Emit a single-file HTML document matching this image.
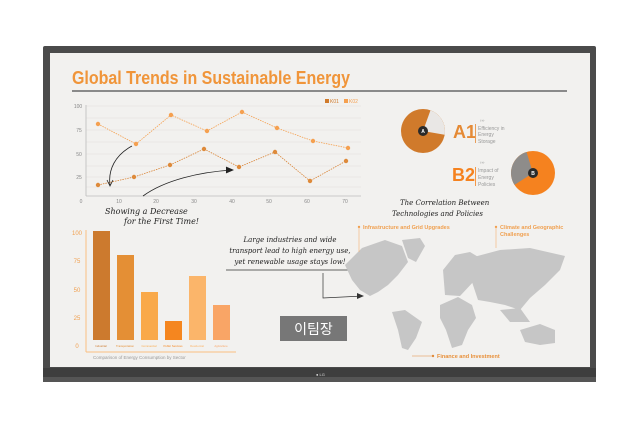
<!DOCTYPE html>
<html><head><meta charset="utf-8"><style>
html,body{margin:0;padding:0;background:#fff;width:644px;height:422px;overflow:hidden}
svg{display:block}
.h{font-family:"DejaVu Serif","Liberation Serif",serif;font-style:italic;fill:#222}
</style></head><body>
<svg width="644" height="422" viewBox="0 0 644 422" xmlns="http://www.w3.org/2000/svg" font-family="Liberation Sans, sans-serif">
<rect x="43" y="46" width="553" height="336" rx="2" fill="#4b4b4b"/>
<rect x="43" y="368" width="553" height="14" fill="#3e3e3e"/>
<rect x="43" y="377" width="553" height="5" fill="#555"/>
<rect x="50" y="53" width="540" height="314" fill="#f2f1ef"/>
<text x="316" y="376" font-size="4" fill="#ddd">● LG</text>
<!-- title -->
<text x="72" y="84" font-size="18.5" font-weight="bold" fill="#f0953a" textLength="278" lengthAdjust="spacingAndGlyphs">Global Trends in Sustainable Energy</text>
<rect x="72" y="90" width="495" height="2" fill="#8a8a8a"/>
<!-- line chart -->
<g stroke="#e2e0de" stroke-width="0.6">
<line x1="86" y1="106" x2="361" y2="106"/><line x1="86" y1="118" x2="361" y2="118"/><line x1="86" y1="130" x2="361" y2="130"/><line x1="86" y1="142" x2="361" y2="142"/><line x1="86" y1="154" x2="361" y2="154"/><line x1="86" y1="166" x2="361" y2="166"/><line x1="86" y1="177" x2="361" y2="177"/><line x1="86" y1="187" x2="361" y2="187"/>
</g>
<line x1="86" y1="105" x2="86" y2="196" stroke="#bbb" stroke-width="0.8"/>
<line x1="86" y1="196" x2="361" y2="196" stroke="#bbb" stroke-width="0.8"/>
<g font-size="5" fill="#888" text-anchor="middle">
<text x="78" y="108">100</text><text x="79" y="132">75</text><text x="79" y="156">50</text><text x="79" y="179">25</text>
<text x="81" y="203">0</text><text x="119" y="203">10</text><text x="156" y="203">20</text><text x="194" y="203">30</text><text x="232" y="203">40</text><text x="269" y="203">50</text><text x="307" y="203">60</text><text x="345" y="203">70</text>
</g>
<rect x="325" y="99" width="4" height="4" fill="#d07a2b"/><text x="330" y="103" font-size="5" fill="#d07a2b">K01</text>
<rect x="344" y="99" width="4" height="4" fill="#f5a050"/><text x="349" y="103" font-size="5" fill="#f5a050">K02</text>
<polyline points="98,124 136,144 171,115 207,131 242,112 277,128 313,141 348,148" fill="none" stroke="#f5a050" stroke-width="0.8" stroke-dasharray="1.5,1"/>
<polyline points="98,185 134,177 170,165 204,149 239,167 275,152 310,181 346,161" fill="none" stroke="#d98436" stroke-width="0.8" stroke-dasharray="1.5,1"/>
<g fill="#f5a050"><circle cx="98" cy="124" r="2.2"/><circle cx="136" cy="144" r="2.2"/><circle cx="171" cy="115" r="2.2"/><circle cx="207" cy="131" r="2.2"/><circle cx="242" cy="112" r="2.2"/><circle cx="277" cy="128" r="2.2"/><circle cx="313" cy="141" r="2.2"/><circle cx="348" cy="148" r="2.2"/></g>
<g fill="#de8a3a"><circle cx="98" cy="185" r="2.2"/><circle cx="134" cy="177" r="2.2"/><circle cx="170" cy="165" r="2.2"/><circle cx="204" cy="149" r="2.2"/><circle cx="239" cy="167" r="2.2"/><circle cx="275" cy="152" r="2.2"/><circle cx="310" cy="181" r="2.2"/><circle cx="346" cy="161" r="2.2"/></g>
<path d="M132,146 C115,155 108,170 110,185" fill="none" stroke="#222" stroke-width="0.8"/>
<path d="M107,180 L110,186 L113,180" fill="none" stroke="#222" stroke-width="0.8"/>
<path d="M143,196 C165,180 200,172 232,170" fill="none" stroke="#222" stroke-width="0.8"/>
<path d="M226,167 L233,170 L226,173" fill="#222" stroke="#222" stroke-width="0.8"/>
<text class="h" x="105" y="214" font-size="8">Showing a Decrease</text>
<text class="h" x="124" y="224" font-size="8">for the First Time!</text>
<!-- pies -->
<circle cx="423" cy="131" r="22" fill="#d07a2b"/>
<path d="M423,131 L430.5,110.3 A22,22 0 0 1 444.6,134.8 Z" fill="#e9e7e5"/>
<circle cx="423" cy="131" r="5" fill="#2a2a2a"/><text x="423" y="133" font-size="5" fill="#fff" text-anchor="middle" font-weight="bold">A</text>
<text x="453" y="138" font-size="18" font-weight="bold" fill="#e58a35">A1</text>
<rect x="475" y="124" width="0.8" height="19" fill="#e58a35"/>
<text x="480" y="122" font-size="4.5" fill="#888">›››</text>
<g font-size="5" fill="#999"><text x="478" y="130">Efficiency in</text><text x="478" y="136">Energy</text><text x="478" y="143">Storage</text></g>
<circle cx="533" cy="173" r="22" fill="#f5821f"/>
<path d="M533,173 L514.5,184.9 A22,22 0 0 1 526.5,152 Z" fill="#8e8c8a"/>
<circle cx="533" cy="173" r="5" fill="#2a2a2a"/><text x="533" y="175" font-size="5" fill="#fff" text-anchor="middle" font-weight="bold">B</text>
<text x="452" y="181" font-size="18" font-weight="bold" fill="#f5821f">B2</text>
<rect x="475" y="167" width="0.8" height="19" fill="#f5821f"/>
<text x="480" y="164" font-size="4.5" fill="#888">›››</text>
<g font-size="5" fill="#999"><text x="478" y="172">Impact of</text><text x="478" y="179">Energy</text><text x="478" y="186">Policies</text></g>
<text class="h" x="400" y="205" font-size="7">The Correlation Between</text>
<text class="h" x="392" y="216" font-size="7">Technologies and Policies</text>
<!-- bar chart -->
<line x1="86" y1="230" x2="86" y2="352" stroke="#fbbf80" stroke-width="1"/>
<line x1="86" y1="352" x2="236" y2="352" stroke="#fbbf80" stroke-width="1"/>
<g font-size="6" fill="#f0a050" text-anchor="middle"><text x="77" y="235">100</text><text x="77" y="263">75</text><text x="77" y="292">50</text><text x="77" y="320">25</text><text x="77" y="348">0</text></g>
<rect x="93" y="231" width="17" height="109" fill="#cc7a2e"/>
<rect x="117" y="255" width="17" height="85" fill="#e48f35"/>
<rect x="141" y="292" width="17" height="48" fill="#f9a94a"/>
<rect x="165" y="321" width="17" height="19" fill="#f5861f"/>
<rect x="189" y="276" width="17" height="64" fill="#fbb56a"/>
<rect x="213" y="305" width="17" height="35" fill="#f9a566"/>
<g font-size="2.8" text-anchor="middle"><text x="101" y="347" fill="#cc7a2e">Industrial</text><text x="125" y="347" fill="#e48f35">Transportation</text><text x="149" y="347" fill="#f9a94a">Commercial</text><text x="173" y="347" fill="#f5861f">Public Services</text><text x="197" y="347" fill="#fbb56a">Residential</text><text x="221" y="347" fill="#f9a566">Agriculture</text></g>
<text x="93" y="359" font-size="4.5" fill="#999">Comparison of Energy Consumption by Sector</text>
<!-- note -->
<text class="h" x="290" y="242" font-size="7" text-anchor="middle">Large industries and wide</text>
<text class="h" x="290" y="253" font-size="7" text-anchor="middle">transport lead to high energy use,</text>
<text class="h" x="290" y="264" font-size="7" text-anchor="middle">yet renewable usage stays low!</text>
<line x1="226" y1="270" x2="355" y2="270" stroke="#333" stroke-width="0.7"/>
<polyline points="323,273 323,298 363,296" fill="none" stroke="#333" stroke-width="0.7"/>
<path d="M357,293 L364,296 L357,299 Z" fill="#333"/>
<rect x="280" y="316" width="67" height="25" fill="#777"/>
<text x="313.5" y="334" font-size="14" fill="#fff" text-anchor="middle" font-family="Liberation Sans, 'Noto Sans CJK KR', sans-serif">이팀장</text>
<!-- map -->
<g fill="#c6c6c6">
<path d="M345,265 L362,248 L385,240 L402,246 L408,262 L398,275 L388,285 L378,292 L370,296 L360,290 L352,280 Z"/>
<path d="M402,240 L420,238 L425,246 L416,262 L408,258 Z"/>
<path d="M392,312 L405,310 L422,322 L416,338 L408,350 L402,348 L398,330 Z"/>
<path d="M440,305 L458,297 L472,305 L476,318 L468,330 L462,345 L452,348 L446,330 L440,318 Z"/>
<path d="M443,270 L455,255 L470,252 L480,258 L475,280 L460,296 L445,295 Z"/>
<path d="M470,258 L500,250 L530,248 L565,256 L560,270 L545,285 L530,298 L520,310 L505,305 L490,302 L478,300 L472,282 Z"/>
<path d="M520,330 L540,324 L555,330 L555,343 L540,345 L525,342 Z"/>
<path d="M500,310 L520,308 L530,322 L510,322 Z"/>
</g>
<g font-size="5.5" font-weight="bold" fill="#f0a050">
<circle cx="359" cy="227" r="1.2"/><line x1="359" y1="227" x2="359" y2="252" stroke="#f5b070" stroke-width="0.6"/>
<text x="363" y="229">Infrastructure and Grid Upgrades</text>
<circle cx="496" cy="227" r="1.2"/><line x1="496" y1="227" x2="496" y2="248" stroke="#f5b070" stroke-width="0.6"/>
<text x="500" y="229">Climate and Geographic</text><text x="500" y="236">Challenges</text>
<line x1="412" y1="356" x2="433" y2="356" stroke="#e08a3a" stroke-width="0.6"/><circle cx="433" cy="356" r="1.2" fill="#e08a3a"/>
<text x="437" y="358" fill="#e8903a">Finance and Investment</text>
</g>
</svg>
</body></html>
